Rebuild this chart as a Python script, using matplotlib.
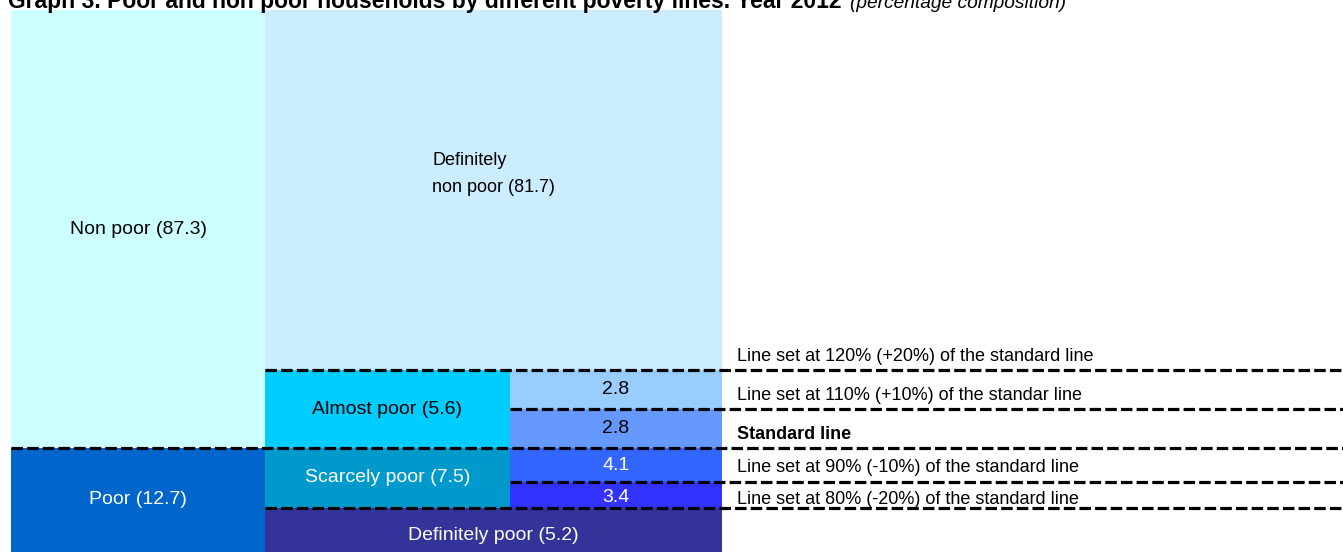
import matplotlib
matplotlib.use("Agg")
import matplotlib.pyplot as plt
import numpy as np

# values (percent of households)
main_labels = ["Poor (12.7)", "Non poor (87.3)"]
main_values = [12.7, 87.3]
group_labels = ["Definitely poor (5.2)", "Scarcely poor (7.5)", "Almost poor (5.6)",
                "Definitely\nnon poor (81.7)"]
group_values = [5.2, 7.5, 5.6, 81.7]
split_values = [3.4, 4.1, 2.8, 2.8]
line_labels = [
    "Line set at 80% (-20%) of the standard line",
    "Line set at 90% (-10%) of the standard line",
    "Standard line",
    "Line set at 110% (+10%) of the standar line",
    "Line set at 120% (+20%) of the standard line",
]

# layout (pixels)
W, H = 1343, 552
TOP = 10
COL_X = [11, 265, 510, 722]
BAND_PX = [44, 26, 34, 39, 39, 360]   # drawn heights of the stacked bands, bottom up
LABEL_X = 737

main_colors = ["#0066CC", "#CCFFFF"]
group_colors = ["#333399", "#0099CC", "#00CCFF", "#CCECFF"]
split_colors = ["#3333FF", "#3366FF", "#6699FF", "#99CCFF"]
main_text = ["white", "black"]
group_text = ["white", "white", "black", "black"]
split_text = ["white", "white", "black", "black"]

FONT = ["Liberation Sans Narrow", "Liberation Sans", "DejaVu Sans"]

# poverty line levels are cumulative shares from the bottom
levels = np.concatenate([[group_values[0]], group_values[0] + np.cumsum(split_values)])
pct_breaks = np.concatenate([[0], levels, [100]])
disp_breaks = np.concatenate([[0], np.cumsum(BAND_PX)])


def fwd(y):
    return np.interp(y, pct_breaks, disp_breaks)


def inv(d):
    return np.interp(d, disp_breaks, pct_breaks)


fig = plt.figure(figsize=(W / 100, H / 100), dpi=100)
ax = fig.add_axes([0, 0, 1, (H - TOP) / H])
ax.set_yscale("function", functions=(fwd, inv))
ax.set_xlim(0, W)
ax.set_ylim(0, 100)
ax.axis("off")


def block(x0, x1, bottom, value, color, label, tcolor, dy=0, size=14, **kw):
    ax.bar(x0, value, width=x1 - x0, bottom=bottom, align="edge", color=color, linewidth=0)
    mid = inv((fwd(bottom) + fwd(bottom + value)) / 2)
    ax.annotate(label, ((x0 + x1) / 2, mid), xytext=(0, dy), textcoords="offset pixels",
                ha="center", va="center", color=tcolor, fontsize=size, family=FONT,
                annotation_clip=False, **kw)


# first column: poor / non poor
bottom = 0
for v, c, lab, tc in zip(main_values, main_colors, main_labels, main_text):
    block(COL_X[0], COL_X[1], bottom, v, c, lab, tc)
    bottom += v

# second column (first and last blocks span the third column too)
bottom = 0
for i, (v, c, lab, tc) in enumerate(zip(group_values, group_colors, group_labels, group_text)):
    wide = i in (0, len(group_values) - 1)
    right = COL_X[3] if wide else COL_X[2]
    if i == 3:
        block(COL_X[1], right, bottom, v, c, lab, tc, dy=16, size=13,
              multialignment="left", linespacing=1.7)
    else:
        block(COL_X[1], right, bottom, v, c, lab, tc, dy=-5 if i == 0 else 0)
    bottom += v

# third column: split by the alternative lines
bottom = group_values[0]
for i, (v, c, tc) in enumerate(zip(split_values, split_colors, split_text)):
    block(COL_X[2], COL_X[3], bottom, v, c, f"{v:.1f}", tc, dy=-3 if i == 0 else 0)
    bottom += v

# dashed poverty lines and their labels
line_start = [COL_X[1], COL_X[2], COL_X[0], COL_X[2], COL_X[1]]
label_dy = [4, 10, 9, 9, 9]
for lev, x0, lab, dy in zip(levels, line_start, line_labels, label_dy):
    ax.hlines(lev, x0, W, colors="black", linewidth=2.3, linestyles=(0, (3.6, 1.3)))
    ax.annotate(lab, (LABEL_X, lev), xytext=(0, dy), textcoords="offset pixels",
                ha="left", va="baseline", fontsize=13, family=FONT,
                fontweight="bold" if lab == "Standard line" else "normal",
                annotation_clip=False)

fig.text(8 / W, 1 - 8 / H, "Graph 3. Poor and non poor households by different poverty lines. Year 2012",
         ha="left", va="baseline", fontsize=16.5, fontweight="bold", family="Liberation Sans")
fig.text(850 / W, 1 - 8 / H, "(percentage composition)", ha="left", va="baseline",
         fontsize=13.8, fontstyle="italic", family="Liberation Sans")

fig.savefig("out.png", dpi=100)
